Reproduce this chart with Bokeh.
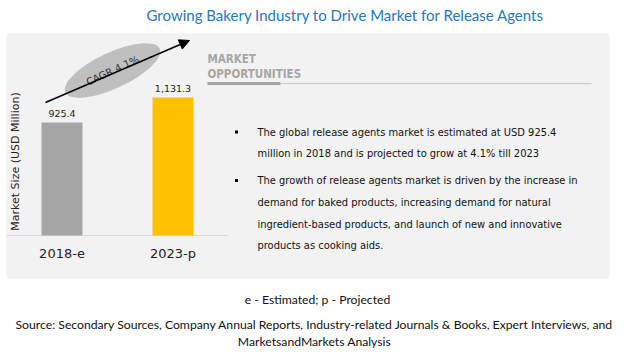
import math
from bokeh.plotting import figure
from bokeh.models import Range1d, Arrow, NormalHead, ColumnDataSource
from bokeh.core.properties import value
from bokeh.embed import file_html
from bokeh.resources import INLINE

# ---- data ----
categories = ["2018-e", "2023-p"]
market_size = [925.4, 1131.3]
value_labels = ["925.4", "1,131.3"]
bar_colors = ["#a5a5a5", "#ffc000"]
cagr_label = "CAGR 4.1%"
title = "Growing Bakery Industry to Drive Market for Release Agents"
y_axis_label = "Market Size (USD Million)"
section_lines = ["MARKET", "OPPORTUNITIES"]
bullet_lines = [
    ["The global release agents market is estimated at USD 925.4",
     "million in 2018 and is projected to grow at 4.1% till 2023"],
    ["The growth of release agents market is driven by the increase in",
     "demand for baked products, increasing demand for natural",
     "ingredient-based products, and launch of new and innovative",
     "products as cooking aids."],
]
footnote = "e - Estimated; p - Projected"
source_lines = [
    "Source: Secondary Sources, Company Annual Reports, Industry-related Journals & Books, Expert Interviews, and",
    "MarketsandMarkets Analysis",
]

# ---- layout ----
W, H = 619, 355
def X(rx):
    return rx
def Y(ry):
    return H - ry

p = figure(width=W, height=H, output_backend="svg", toolbar_location=None,
           x_range=Range1d(0, W), y_range=Range1d(0, H), min_border=0)
p.axis.visible = False
p.grid.visible = False
p.outline_line_color = None
p.background_fill_color = "white"
p.border_fill_color = "white"

# bar-chart scales (pixel geometry of the chart area)
bar_c0, bar_step, bar_w = 61.5, 111.0, 41.0
base_px, top_px = Y(235), Y(97)
ux = 1.0 / bar_step
xs = -X(bar_c0) * ux
p.extra_x_ranges = {"bars": Range1d(xs, xs + W * ux)}
uy = max(market_size) / (top_px - base_px)
ys = -base_px * uy
p.extra_y_ranges = {"bars": Range1d(ys, ys + H * uy)}

# panel background
p.quad(left=X(6), right=X(609), bottom=Y(278), top=Y(33),
       fill_color="#f2f2f2", line_color=None)

# baseline
p.segment(x0=X(6), x1=X(228), y0=Y(235), y1=Y(235), line_color="#d9d9d9", line_width=1)

idx = list(range(len(categories)))
src = ColumnDataSource(dict(x=idx, top=market_size, color=bar_colors,
                            lab=value_labels, cat=categories,
                            zero=[0] * len(idx)))
p.vbar(x="x", top="top", bottom=0, width=bar_w * ux, fill_color="color", line_color=None,
       source=src, x_range_name="bars", y_range_name="bars")
p.text(x="x", y="top", text="lab", source=src, x_range_name="bars", y_range_name="bars",
       text_align="center", text_baseline="bottom", y_offset=-6,
       text_font=value("DejaVu Sans"), text_font_size="9.5px", text_color="#222222")
p.text(x="x", y="zero", text="cat", source=src, x_range_name="bars", y_range_name="bars",
       text_align="center", text_baseline="middle", y_offset=18,
       text_font=value("DejaVu Sans"), text_font_size="13px", text_color="#222222")

# y axis label
p.text(x=[X(15)], y=[Y(161)], text=[y_axis_label], angle=math.pi / 2,
       text_align="center", text_baseline="middle",
       text_font=value("DejaVu Sans"), text_font_size="11px", text_color="#222222")

# CAGR ellipse + arrow
p.add_layout(Arrow(end=NormalHead(size=10, fill_color="black", line_color="black"),
                   x_start=X(45), y_start=Y(102), x_end=X(189), y_end=Y(40),
                   line_color="black", line_width=1.5))
ang = math.radians(25)
p.ellipse(x=[X(112)], y=[Y(70)], width=[104], height=[36], angle=[ang],
          width_units="screen", height_units="screen",
          fill_color="#bfbfbf", line_color=None)
p.text(x=[X(112)], y=[Y(70)], text=[cagr_label], angle=ang,
       text_align="center", text_baseline="middle",
       text_font=value("DejaVu Sans"), text_font_size="10px", text_color="#333333")

# title
p.text(x=[X(345)], y=[Y(14)], text=[title], text_align="center", text_baseline="middle",
       text_font=value("Lato"), text_font_size="15px", text_color="#2579c0")

# section header
narrow = "DejaVu Sans Condensed, Roboto"
for i, s in enumerate(section_lines):
    p.text(x=[X(207)], y=[Y(58 + 15 * i)], text=[s], text_align="left", text_baseline="middle",
           text_font=value(narrow), text_font_size="11.5px", text_font_style="bold",
           text_color="#a6a6a6")
p.segment(x0=X(207), x1=X(280), y0=Y(83), y1=Y(83), line_color="#a6a6a6", line_width=3)
p.segment(x0=X(280), x1=X(591), y0=Y(83), y1=Y(83), line_color="#c8c8c8", line_width=1)

# bullets
line_y = [[131.5, 153], [180, 202, 223.5, 245]]
for blines, ys_ in zip(bullet_lines, line_y):
    p.rect(x=[X(236)], y=[Y(ys_[0])], width=3, height=3, width_units="screen",
           height_units="screen", fill_color="black", line_color=None)
    p.text(x=[X(257)] * len(blines), y=[Y(v) for v in ys_], text=blines,
           text_align="left", text_baseline="middle",
           text_font=value(narrow), text_font_size="11px", text_color="#111111")

# footnotes
p.text(x=[X(317)], y=[Y(299)], text=[footnote], text_align="center", text_baseline="middle",
       text_font=value("Lato"), text_font_size="12.2px", text_color="#111111")
p.text(x=[X(314)] * 2, y=[Y(324), Y(341)], text=source_lines, text_align="center",
       text_baseline="middle", text_font=value("Lato"), text_font_size="12.2px",
       text_color="#111111")

open("out.html", "w").write(file_html(p, INLINE))
